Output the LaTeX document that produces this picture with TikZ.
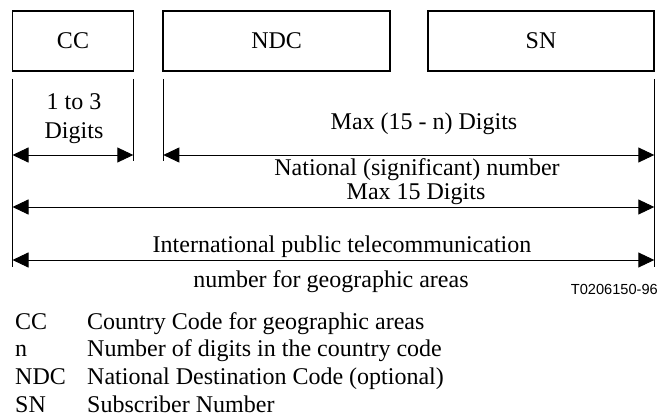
\documentclass[tikz,border=0pt]{standalone}
\usepackage{fontspec}
\setmainfont{Liberation Serif}
\newfontfamily\tagfont{Liberation Sans}
\usetikzlibrary{arrows.meta}

\begin{document}
\begin{tikzpicture}[x=1pt,y=1pt,>={Triangle[length=16pt,width=15pt]},
    field/.style={draw,line width=1.8pt,minimum height=60pt,inner sep=0pt,
      font=\fontsize{24}{28}\selectfont},
    txt/.style={anchor=base,inner sep=0pt,font=\fontsize{24}{28}\selectfont},
    dim/.style={<->,line width=0.9pt}]
    \useasboundingbox (0,0) rectangle (659,416);

    % the three fields of the number
    \node[field,minimum width=121pt] (cc) at (73,375.2) {CC};
    \node[field,minimum width=226.5pt] (ndc) at (276.6,375.2) {NDC};
    \node[field,minimum width=226.6pt] (sn) at (541,375.2) {SN};

    % extension lines
    \coordinate (ccL) at (12.5,337);   \coordinate (ccLb) at (12.5,149);
    \coordinate (ccR) at (133.3,337);  \coordinate (ccRb) at (133.3,255);
    \coordinate (ndcL) at (163.3,337); \coordinate (ndcLb) at (163.3,255);
    \coordinate (snR) at (654.3,337);  \coordinate (snRb) at (654.3,149);
    \draw (ccL) -- (ccLb);
    \draw (ccR) -- (ccRb);
    \draw (ndcL) -- (ndcLb);
    \draw (snR) -- (snRb);

    % dimension arrows
    \coordinate (row1) at (0,261);
    \coordinate (row2) at (0,209);
    \coordinate (row3) at (0,156);
    \draw[dim] (ccL |- row1) -- (ccR |- row1);
    \draw[dim] (ndcL |- row1) -- (snR |- row1);
    \draw[dim] (ccL |- row2) -- (snR |- row2);
    \draw[dim] (ccL |- row3) -- (snR |- row3);

    % base of a two-line node is its last line
    \node[txt,align=center] (ccdig) at (74,278) {1 to 3\\Digits};
    \node[txt] (natdig) at (424,287) {Max (15 - n) Digits};
    \node[txt] (nat) at (417,241) {National (significant) number};
    \node[txt] (maxdig) at (416,217) {Max 15 Digits};
    \node[txt] (intl) at (342,164) {International public telecommunication};
    \node[txt] (intl2) at (331,129) {number for geographic areas};

    \node[anchor=base east,inner sep=0pt,font=\tagfont\fontsize{14.6}{17}\selectfont]
      (tag) at (658,122) {T0206150-96};

    % legend
    \foreach \abbr/\desc [count=\i] in {CC/Country Code for geographic areas,
        n/Number of digits in the country code,
        NDC/National Destination Code (optional),
        SN/Subscriber Number}
    {
      \node[txt,anchor=base west] (key\i) at (15,{87-27.7*(\i-1)}) {\abbr};
      \node[txt,anchor=base west] (desc\i) at (87,{87-27.7*(\i-1)}) {\desc};
    }
\end{tikzpicture}
\end{document}
